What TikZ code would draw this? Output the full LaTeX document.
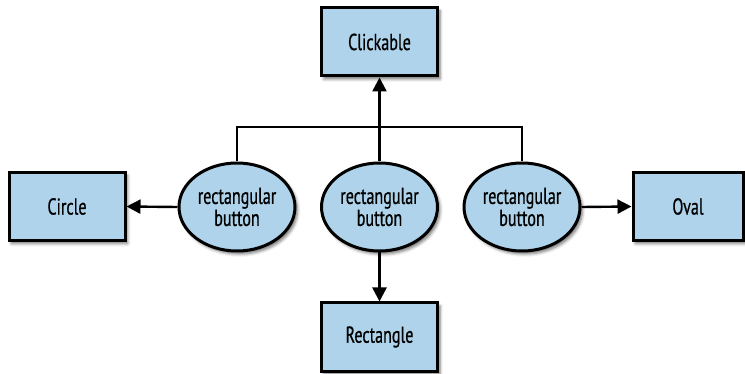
\documentclass[tikz,border=0pt]{standalone}
\usepackage{fontspec}
\setmainfont[FakeStretch=0.7,FakeBold=0.6]{PT Sans}
\usetikzlibrary{shapes.geometric,arrows.meta,shadows.blur}
\definecolor{boxblue}{RGB}{174,211,234}
\tikzset{
  base/.style={draw=black, line width=3pt, fill=boxblue, inner sep=0pt,
    font=\fontsize{23}{22}\selectfont, align=center,
    blur shadow={shadow xshift=2.5pt, shadow yshift=-3pt, shadow blur radius=3pt, shadow opacity=55}},
  boxnode/.style={base, rectangle, minimum width=116pt, minimum height=68pt},
  ellnode/.style={base, ellipse, minimum width=116pt, minimum height=88pt},
  conn/.style={line width=2.4pt, draw=black},
  arr/.style={conn, -{Triangle[length=14pt,width=14pt]}}
}
\begin{document}
\begin{tikzpicture}[x=1pt,y=-1pt]
\useasboundingbox (0,0) rectangle (745,374);
\node[boxnode] (click) at (379.5,42) {Clickable};
\node[boxnode] (circle) at (67,206.5) {Circle};
\node[boxnode, minimum width=110pt] (oval) at (688,206.5) {Oval};
\node[boxnode] (rect) at (379.5,337) {Rectangle};
\node[ellnode] (e1) at (237,207) {rectangular\\button};
\node[ellnode] (e2) at (379.5,207) {rectangular\\button};
\node[ellnode] (e3) at (522,207) {rectangular\\button};
\coordinate (tl) at (237,127);
\coordinate (tr) at (522,127);
\draw[conn] (e1.north) -- (tl) -- (tr) -- (e3.north);
\draw[arr] (e2.north) -- (click.south);
\draw[arr] (e2.south) -- (rect.north);
\draw[arr] (e1.west) -- (circle.east);
\draw[arr] (e3.east) -- (oval.west);
\end{tikzpicture}
\end{document}
